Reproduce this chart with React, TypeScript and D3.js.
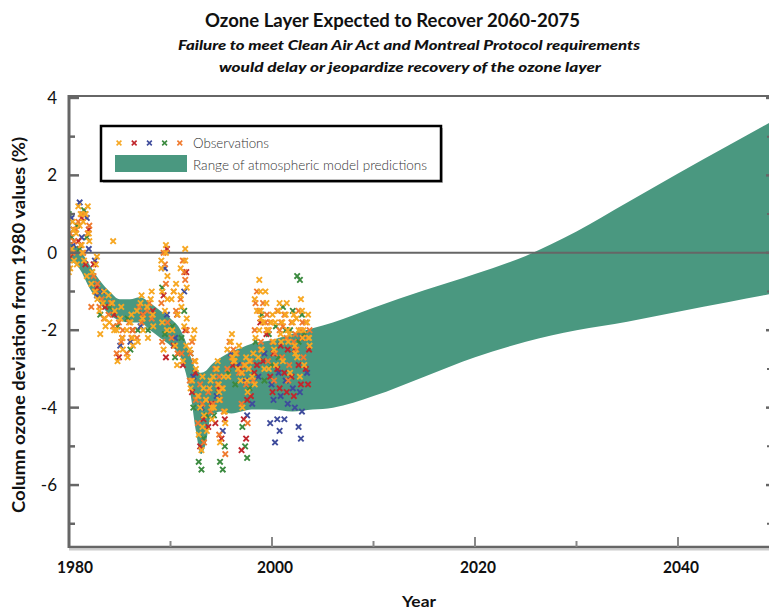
import React from "react";
import * as d3 from "d3";

// ---------- Data ----------
const modelYears = [1980, 1981, 1982, 1983, 1984, 1985, 1986, 1987, 1988, 1989, 1990, 1991, 1991.5, 1992, 1992.5, 1993, 1993.5, 1994, 1995, 1996, 1997, 1998, 2000, 2002, 2004, 2006, 2010, 2015, 2020, 2025, 2030, 2035, 2040, 2045, 2050];
const modelUpper = [0.3, 0.1, -0.3, -0.7, -1.0, -1.2, -1.2, -1.15, -1.3, -1.5, -1.7, -2.0, -2.3, -2.7, -3.0, -3.1, -3.05, -2.9, -2.7, -2.55, -2.45, -2.35, -2.25, -2.1, -1.95, -1.8, -1.42, -0.97, -0.55, -0.08, 0.55, 1.3, 2.05, 2.78, 3.5];
const modelLower = [-0.2, -0.4, -0.9, -1.3, -1.6, -1.75, -1.8, -1.8, -2.0, -2.2, -2.4, -2.7, -3.1, -3.7, -4.6, -5.2, -4.9, -4.2, -4.1, -4.15, -4.1, -4.05, -4.05, -4.1, -4.05, -4.0, -3.7, -3.2, -2.7, -2.3, -2.0, -1.78, -1.52, -1.27, -1.02];

const obsYears = [1980.2, 1981.0, 1981.7, 1982.5, 1983.3, 1984.2, 1985.0, 1986.0, 1987.0, 1988.0, 1989.4, 1990.4, 1991.3, 1992.2, 1993.0, 1993.8, 1994.5, 1995.1, 1995.9, 1996.6, 1997.3, 1998.0, 1998.6, 1999.2, 1999.9, 2000.6, 2001.3, 2002.0, 2002.7, 2003.4];

const obsYellow = [
  [0.8, 0.3, -0.2, -0.5, 0.1, 0.6, -0.4], [1.0, 0.5, 0.0, -0.3, 0.7, 0.2, 1.2], [1.2, 0.8, 0.3, -0.2, -0.6, 0.5, 1.0], [-0.3, -0.8, -1.2, -0.5, -1.0, -0.1],
  [-1.0, -1.5, -1.9, -2.1, -1.3, -1.7], [0.3, -1.1, -1.5, -1.8, -1.3, -2.0], [-1.4, -2.0, -2.5, -2.8, -1.7, -2.2], [-1.6, -2.0, -2.4, -2.7, -1.8, -2.2],
  [-1.1, -1.5, -2.0, -2.3, -1.3, -1.7], [-1.0, -1.4, -1.9, -2.2, -1.2, -1.6], [0.2, -0.2, -0.6, -1.0, -1.5, -2.0, -2.5, 0.0, -0.4, -1.2, -1.8], [-0.8, -1.2, -1.6, -2.0, -2.4, -2.9, -1.0],
  [0.1, -0.4, -0.9, -1.4, -1.9, -2.4, -2.8, -0.2, -1.1, -1.7], [-2.0, -2.5, -3.0, -3.5, -2.2, -2.8, -3.3], [-3.2, -3.7, -4.2, -4.7, -5.1, -3.5, -4.0, -4.5], [-3.3, -3.8, -4.3, -4.6, -3.5, -4.0],
  [-2.8, -3.2, -3.6, -4.0, -3.0, -3.4], [-3.2, -3.8, -4.4, -4.9, -3.5, -4.1], [-2.1, -2.5, -2.8, -3.2, -2.3, -2.7], [-2.4, -2.8, -3.3, -2.6, -3.0],
  [-2.7, -3.1, -3.6, -4.0, -2.9, -3.3], [-2.6, -3.0, -3.4, -2.8, -3.2], [-0.7, -1.2, -1.7, -2.2, -2.7, -1.0, -1.5, -2.0], [-1.0, -1.5, -2.0, -2.5, -3.0, -1.3, -1.8],
  [-1.6, -2.0, -2.5, -3.0, -1.8, -2.3], [-1.3, -1.8, -2.3, -2.9, -1.5, -2.1], [-1.3, -1.8, -2.3, -2.8, -1.6, -2.0], [-1.6, -2.1, -2.6, -3.1, -1.8, -2.4],
  [-1.2, -1.7, -2.2, -2.7, -3.2, -1.5, -2.0], [-1.6, -2.0, -2.4, -2.9, -1.8, -2.2],
];
const obsOrange = [
  [0.5, 0.0, -0.3, 0.3], [0.8, 0.2, 0.6, 1.0], [1.0, 0.5, 0.0, 0.7], [-0.6, -1.0, -1.4, -0.8],
  [-1.2, -1.7, -1.4], [-1.3, -1.9, -1.6], [-1.8, -2.3, -2.6, -2.0], [-1.8, -2.2, -2.6, -2.0],
  [-1.4, -1.8, -2.2, -1.6], [-1.3, -1.7, -1.5], [0.0, -0.8, -1.3, -1.8, -2.3, -0.3], [-1.0, -1.5, -2.2, -2.6],
  [-0.2, -0.7, -1.2, -2.0, -2.6, -0.5], [-2.3, -2.8, -3.3, -3.8, -2.6], [-3.4, -3.9, -4.4, -4.9, -3.7], [-3.6, -4.1, -3.8],
  [-3.0, -3.4, -3.9, -3.2], [-3.5, -4.1, -4.7, -5.2, -3.8], [-2.3, -2.7, -3.0, -2.5], [-2.6, -3.1, -2.8],
  [-2.9, -3.4, -3.9, -4.4, -3.1], [-2.8, -3.3, -3.0], [-1.0, -1.5, -2.0, -2.5, -1.3], [-1.3, -1.8, -2.3, -1.6],
  [-1.8, -2.3, -2.8, -3.3, -2.0], [-1.5, -2.0, -2.6, -1.8], [-1.6, -2.2, -2.7, -3.3, -1.9], [-1.8, -2.3, -2.9, -2.1],
  [-1.5, -2.0, -2.5, -1.8], [-1.8, -2.2, -2.7, -2.0],
];
const obsRed = [
  [0.6, -0.1], [0.9, 0.3], [0.6, -0.3], [-0.9, -0.3],
  [-1.4], [-1.6], [-2.2, -2.7], [-2.0],
  [-1.6], [-1.5], [0.1, -1.1, -2.7], [-1.6, -2.4],
  [-0.5, -2.9, -2.0], [-3.1, -3.6], [-4.3, -5.0], [-3.9, -4.5],
  [-3.5, -4.4], [-4.3, -4.8], [-2.9], [-3.0],
  [-3.8, -4.3, -4.8, -5.1], [-3.1, -3.7], [-1.8, -2.9], [-2.1, -2.8],
  [-2.6, -3.2, -3.6], [-2.4, -3.0, -3.5], [-2.5, -3.1, -3.6], [-2.5, -3.2, -3.7],
  [-2.2, -2.9, -3.4], [-2.5, -3.0, -3.4],
];
const obsBlue = [
  [0.9, 0.2], [1.3, 0.4], [0.9, 0.1], [-0.2, -1.1],
  [-1.0], [], [-2.4], [-2.3],
  [-1.9], [], [-0.4, -1.6], [-2.2],
  [-1.0], [-3.2], [-4.0], [-3.5],
  [-3.7], [-4.6], [-2.6], [-2.9],
  [-3.3, -4.2], [-3.9], [-3.2], [-2.6],
  [-3.4, -3.8, -4.4], [-3.1, -3.7, -4.3, -4.6, -4.9], [-3.3, -3.9, -4.3], [-3.5, -4.0],
  [-3.6, -4.1, -4.5, -4.8], [-3.1],
];
const obsGreen = [
  [1.0, 0.4], [0.7, 0.1], [1.1, 0.4], [-0.5],
  [-1.6, -1.3], [-1.4], [-1.9], [-1.7, -2.5],
  [-2.0], [-2.0], [-0.9, -2.1], [-1.9, -2.7],
  [-2.2, -1.5], [-2.6, -4.0], [-5.4, -5.6, -4.8], [-4.2],
  [-4.2], [-5.4, -5.6, -5.0], [-3.1], [-3.4],
  [-4.5, -5.0, -5.3], [-3.5], [-2.3], [-1.6, -3.3],
  [-2.1, -2.9], [-1.9, -2.7], [-1.4, -2.0], [-2.0, -1.5],
  [-0.6, -0.7, -1.6, -2.3], [-2.1],
];

const obsSeries = [
  { name: "green", color: "#3b8a3f", values: obsGreen },
  { name: "blue", color: "#3f4c9c", values: obsBlue },
  { name: "red", color: "#c0272d", values: obsRed },
  { name: "orange", color: "#f07a2e", values: obsOrange },
  { name: "yellow", color: "#f7a823", values: obsYellow },
];
const legendColors = ["#f7a823", "#c0272d", "#3f4c9c", "#3b8a3f", "#f07a2e"];

const yMajorTicks = [-6, -4, -2, 0, 2, 4];
const yMinorTicks = [-7, -5, -3, -1, 1, 3];
const xMajorTicks = [1980, 2000, 2020, 2040];
const xMinorTicks = [1990, 2010, 2030];

const title = "Ozone Layer Expected to Recover 2060-2075";
const subtitle1 = "Failure to meet Clean Air Act and Montreal Protocol requirements";
const subtitle2 = "would delay or jeopardize recovery of the ozone layer";
const yLabel = "Column ozone deviation from 1980 values (%)";
const xLabel = "Year";

// ---------- Layout ----------
const W = 769;
const H = 610;
const left = 69;
const right = 769;
const top = 96;
const bottom = 547;

const BAND = "#4a9880";
const AXIS = "#666666";
const FONT = "Lato, 'Open Sans', sans-serif";

export default function App() {
  const x = d3.scaleLinear().domain([1980, 2050]).range([left, left + 70 * 10.15]);
  const y = d3.scaleLinear().domain([-7.6, 4.05]).range([bottom, top]);

  const bandData = modelYears.map((yr, i) => ({ yr, lo: modelLower[i], hi: modelUpper[i] }));
  const area = d3
    .area<{ yr: number; lo: number; hi: number }>()
    .x((d) => x(d.yr))
    .y0((d) => y(d.lo))
    .y1((d) => y(d.hi))
    .curve(d3.curveMonotoneX);

  const cross = (s: number) => `M${-s},${-s}L${s},${s}M${-s},${s}L${s},${-s}`;
  const jit = [-0.22, 0.05, 0.25, -0.08, 0.15, -0.3, 0.3];

  return (
    <svg width={W} height={H} style={{ position: "absolute", left: 0, top: 0, background: "#fff" }}>
      <defs>
        <clipPath id="plot">
          <rect x={left} y={top} width={right - left} height={bottom - top} />
        </clipPath>
      </defs>
      {/* Title */}
      <text x={392.5} y={27} textAnchor="middle" fontFamily={FONT} fontWeight={700} fontSize={18} fill="#111" textLength={375} lengthAdjust="spacingAndGlyphs">
        {title}
      </text>
      <text x={409} y={50} textAnchor="middle" fontFamily={FONT} fontWeight={900} fontStyle="italic" fontSize={13.5} fill="#111" textLength={462} lengthAdjust="spacingAndGlyphs">
        {subtitle1}
      </text>
      <text x={410} y={72} textAnchor="middle" fontFamily={FONT} fontWeight={900} fontStyle="italic" fontSize={13.5} fill="#111" textLength={382} lengthAdjust="spacingAndGlyphs">
        {subtitle2}
      </text>

      {/* Band */}
      <g clipPath="url(#plot)">
        <path d={area(bandData) || ""} fill={BAND} />
      </g>

      {/* Zero line */}
      <line x1={left} x2={right} y1={y(0)} y2={y(0)} stroke={AXIS} strokeWidth={2} />

      {/* Observations */}
      <g clipPath="url(#plot)">
        {obsSeries.map((s, si) =>
          obsYears.map((yr, ci) =>
            s.values[ci].map((v, vi) => (
              <path
                key={`${s.name}-${ci}-${vi}`}
                d={cross(2.7)}
                transform={`translate(${x(yr + jit[(vi + si) % jit.length])},${y(v)})`}
                stroke={s.color}
                strokeWidth={1.9}
                fill="none"
              />
            ))
          )
        )}
      </g>

      {/* Frame */}
      <line x1={left} x2={right} y1={bottom + 2.5} y2={bottom + 2.5} stroke="#cccccc" strokeWidth={2} />
      <line x1={left} x2={right} y1={top} y2={top} stroke={AXIS} strokeWidth={2} />
      <line x1={left} x2={right} y1={bottom} y2={bottom} stroke={AXIS} strokeWidth={2.5} />
      <line x1={left} x2={left} y1={top - 1} y2={bottom + 1} stroke={AXIS} strokeWidth={3} />

      {/* Y ticks */}
      {yMajorTicks.map((t) => (
        <g key={`ym${t}`}>
          <line x1={left} x2={left + 10} y1={y(t)} y2={y(t)} stroke={AXIS} strokeWidth={2.5} />
          <line x1={right - 3} x2={right} y1={y(t)} y2={y(t)} stroke={AXIS} strokeWidth={2.5} />
          <text x={57} y={y(t) + 6} textAnchor="end" fontFamily={FONT} fontSize={17} fill="#111">
            {t}
          </text>
        </g>
      ))}
      {yMinorTicks.map((t) => (
        <g key={`yn${t}`}>
          <line x1={left} x2={left + 6} y1={y(t)} y2={y(t)} stroke={AXIS} strokeWidth={2.5} />
          <line x1={right - 2} x2={right} y1={y(t)} y2={y(t)} stroke={AXIS} strokeWidth={2} />
        </g>
      ))}

      {/* X ticks */}
      {xMajorTicks.map((t) => (
        <g key={`xm${t}`}>
          {t !== 1980 && <line x1={x(t)} x2={x(t)} y1={bottom} y2={bottom - 10} stroke="#888" strokeWidth={2} />}
          <text x={t === 1980 ? 75 : x(t) + 3} y={573} textAnchor="middle" fontFamily={FONT} fontWeight={700} fontSize={17} fill="#111" textLength={36} lengthAdjust="spacingAndGlyphs">
            {t}
          </text>
        </g>
      ))}
      {xMinorTicks.map((t) => (
        <line key={`xn${t}`} x1={x(t)} x2={x(t)} y1={bottom} y2={bottom - 6} stroke="#888" strokeWidth={2} />
      ))}

      {/* Axis labels */}
      <text
        transform={`translate(25,325) rotate(-90)`}
        textAnchor="middle"
        fontFamily={FONT}
        fontWeight={700}
        fontSize={16.5}
        fill="#111"
        textLength={376}
        lengthAdjust="spacingAndGlyphs"
      >
        {yLabel}
      </text>
      <text x={419} y={607} textAnchor="middle" fontFamily={FONT} fontWeight={700} fontSize={15} fill="#111" textLength={34} lengthAdjust="spacingAndGlyphs">
        {xLabel}
      </text>

      {/* Legend */}
      <rect x={103} y={128} width={340} height={55} fill="#bbbbbb" />
      <rect x={101} y={126} width={340} height={55} fill="#fff" stroke="#000" strokeWidth={2.5} />
      {legendColors.map((c, i) => (
        <path key={`lg${i}`} d={cross(2.4)} transform={`translate(${119 + i * 15.2},143)`} stroke={c} strokeWidth={1.6} fill="none" />
      ))}
      <text x={193} y={148} fontFamily={FONT} fontWeight={300} fontSize={13.3} fill="#333">
        Observations
      </text>
      <rect x={115} y={155} width={72} height={17} fill={BAND} />
      <text x={193} y={170} fontFamily={FONT} fontWeight={300} fontSize={13.3} fill="#333" textLength={234} lengthAdjust="spacingAndGlyphs">
        Range of atmospheric model predictions
      </text>
    </svg>
  );
}
